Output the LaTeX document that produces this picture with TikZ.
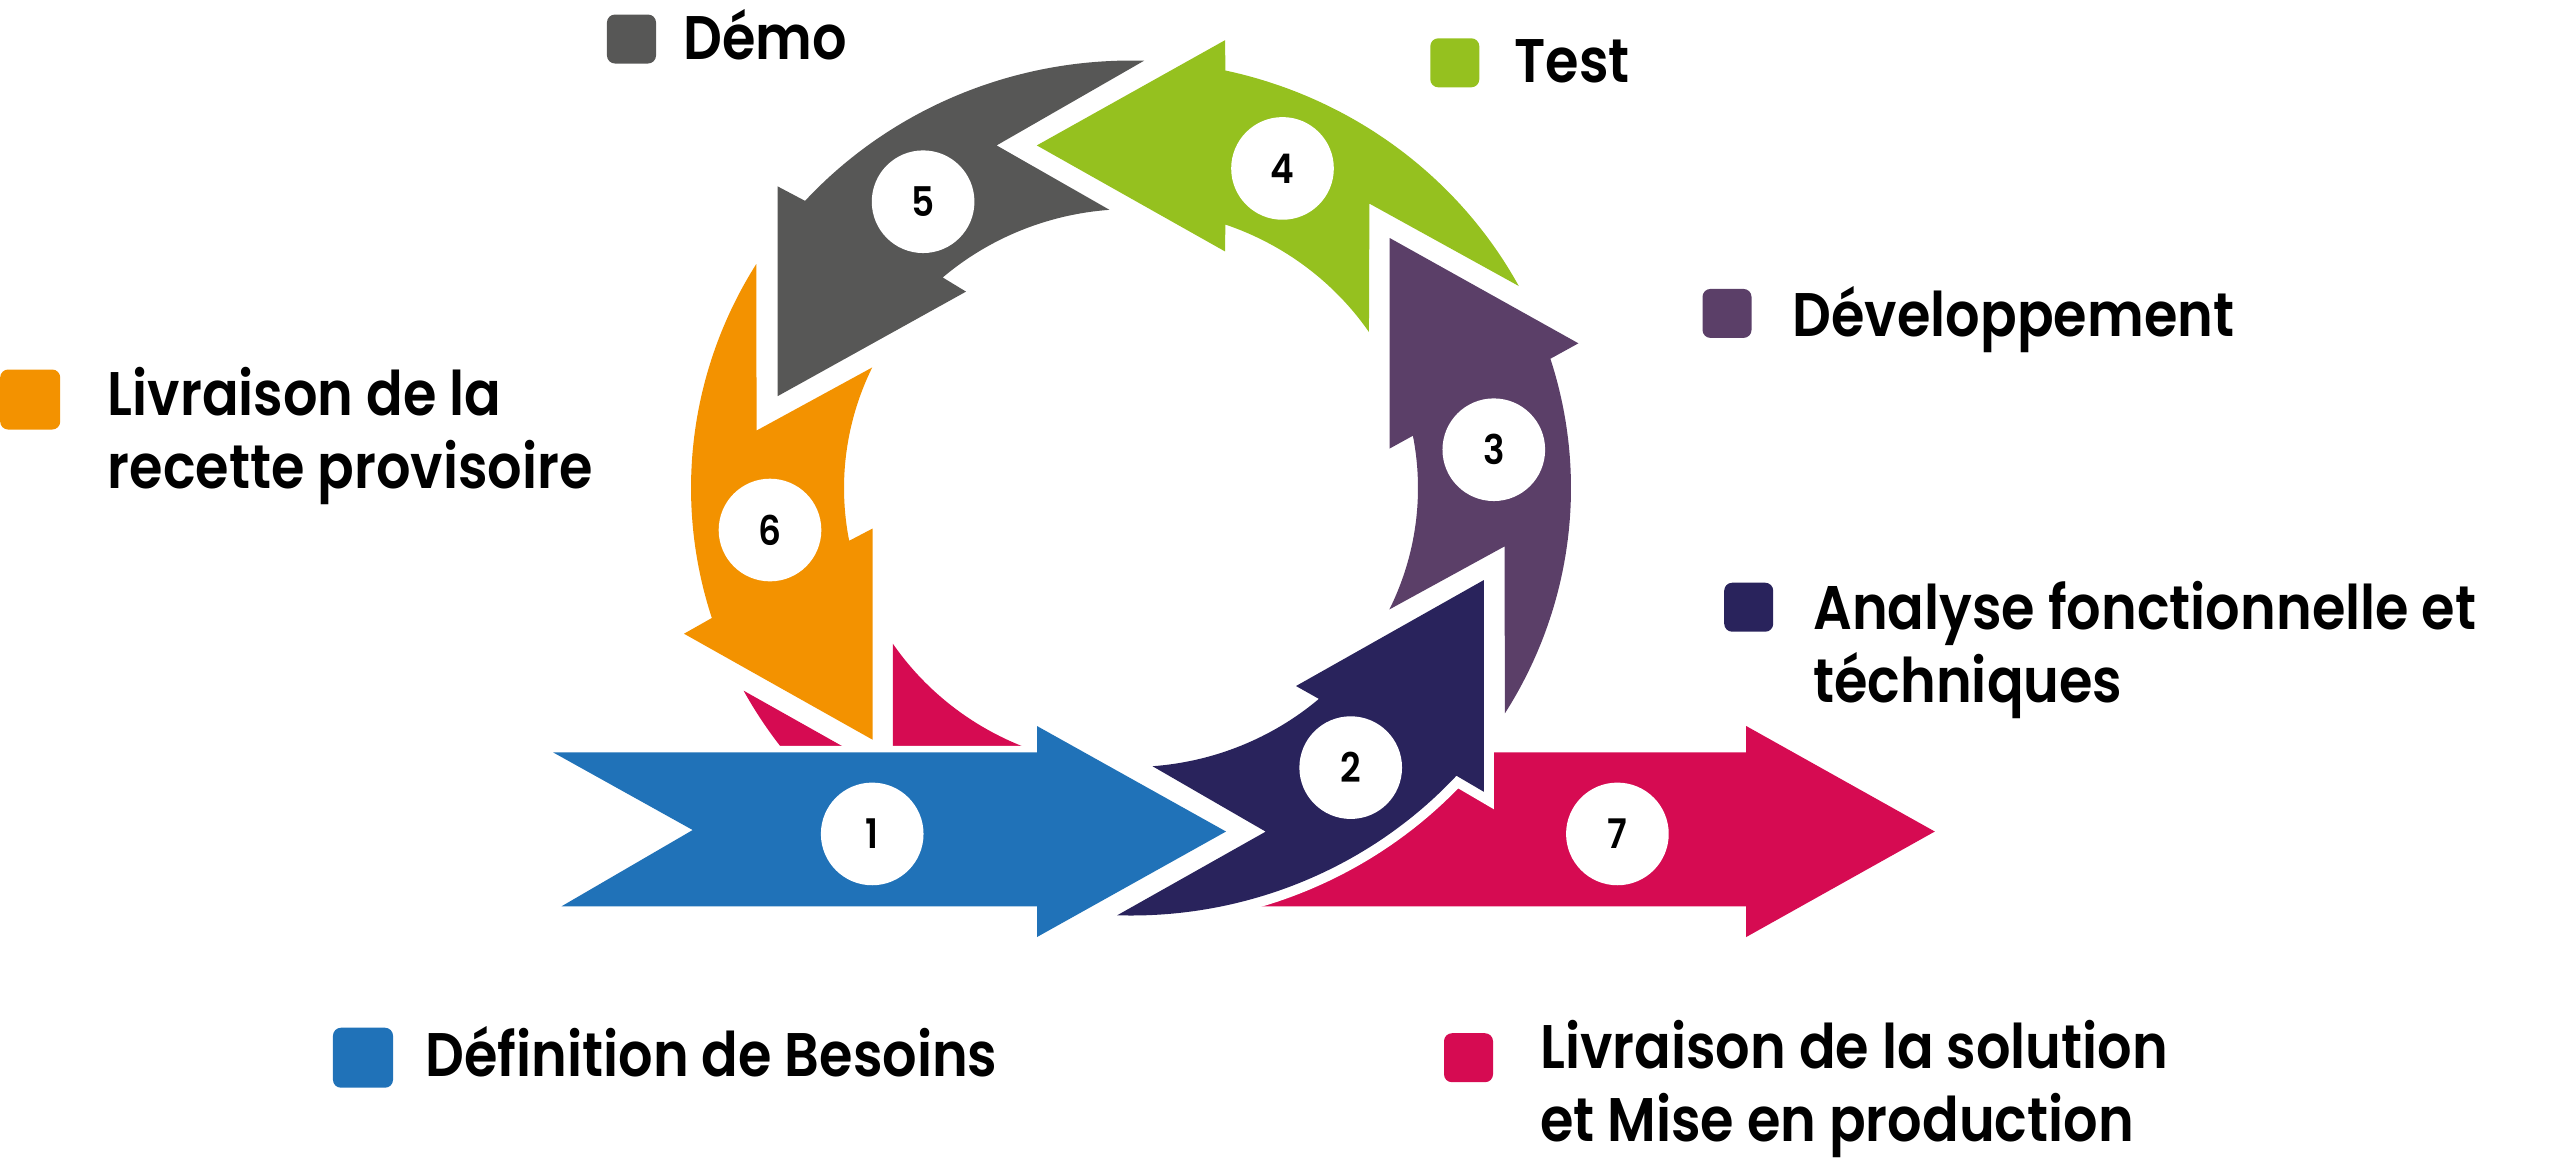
\documentclass[tikz,border=0pt]{standalone}
\usepackage{fontspec}
\setmainfont{Poppins}[BoldFont={* SemiBold},FakeStretch=0.88]
\usetikzlibrary{positioning}

\definecolor{defblue}{HTML}{2072B8}
\definecolor{anaNavy}{HTML}{29235C}
\definecolor{devpurple}{HTML}{5B3F68}
\definecolor{testgreen}{HTML}{95C11F}
\definecolor{demogray}{HTML}{575756}
\definecolor{recorange}{HTML}{F39200}
\definecolor{prodred}{HTML}{D60B52}

\newcommand{\legendfont}{\bfseries\fontsize{17.5}{20.7}\selectfont}
\newcommand{\stepfont}{\bfseries\fontsize{11.6}{13}\selectfont}
% points on the outer / inner ring
\newcommand{\ringo}[1]{([shift={(#1:440 and 427.5)}]c)}
\newcommand{\ringi}[1]{([shift={(#1:287 and 279)}]c)}

\begin{document}
\begin{tikzpicture}[x=0.01cm,y=-0.01cm,
  halo/.style={preaction={draw=white,line width=#1}},
  outarc/.style={x radius=440,y radius=427.5},
  inarc/.style={x radius=287,y radius=279},
  stepnum/.style={circle,fill=white,minimum size=1.026cm,inner sep=0pt,font=\stepfont},
  legendbox/.style={rounded corners=0.08cm,minimum size=0.49cm,inner sep=0pt},
  legendtext/.style={anchor=base west,align=left,inner sep=0pt,font=\legendfont}]

  \useasboundingbox (0,0) rectangle (2560,1162);
  \coordinate (c) at (1131,488);

  % 7 runs behind 1 and 2
  \fill[prodred] (892.9,774.6) -- \ringi{146.1} arc[start angle=146.1,end angle=100,inarc]
        -- \ringo{100} arc[start angle=100,end angle=151.7,outarc] -- cycle;
  \fill[prodred] (1220,906.3) -- (1400,752.3) -- (1746.2,752.3) -- (1746.2,726)
        -- (1934.8,831.5) -- (1746.2,937) -- (1746.2,906.3) -- cycle;

  % 1
  \fill[defblue,halo=0.13cm] (553,752.3) -- (1037,752.3) -- (1037,726) -- (1226,831.5)
        -- (1037,937) -- (1037,906.3) -- (561.5,906.3) -- (692.7,830) -- cycle;

  % 2
  \fill[anaNavy,halo=0.2cm] (1265.7,831.6) -- \ringo{91.8} arc[start angle=91.8,end angle=42.3,outarc]
        -- (1483.9,791.8) -- (1483.9,580) -- (1296,686)
        -- \ringi{49.1} arc[start angle=49.1,end angle=85.7,inarc] -- cycle;

  % 3
  \fill[devpurple] (1389.7,238) -- (1578.4,343.3) -- \ringo{342.4} arc[start angle=342.4,end angle=391.8,outarc]
        -- (1504.5,546.4) -- \ringi{25.8} arc[start angle=25.8,end angle=-10.8,inarc]
        -- (1389.7,448.5) -- cycle;

  % 4
  \fill[testgreen] (1036.8,145.4) -- (1225,40.2) -- \ringo{282.4} arc[start angle=282.4,end angle=331.8,outarc]
        -- (1369.4,203.6) -- \ringi{326} arc[start angle=326,end angle=289.2,inarc]
        -- (1225,251.4) -- cycle;

  % 5
  \fill[demogray] (996.6,145.4) -- \ringo{271.7} arc[start angle=271.7,end angle=222.2,outarc]
        -- (777.7,186.4) -- (777.7,396.1) -- (966,291.6)
        -- \ringi{229} arc[start angle=229,end angle=265.7,inarc] -- cycle;

  % 6
  \fill[recorange] (756.6,430.5) -- \ringi{205.6} arc[start angle=205.6,end angle=169.1,inarc]
        -- (872.6,528.5) -- (872.6,739.7) -- (684,633.7)
        -- \ringo{162.3} arc[start angle=162.3,end angle=211.6,outarc] -- cycle;

  \node[stepnum] (n1) at (872.2,833.9) {1};
  \node[stepnum] (n2) at (1350.7,767.6) {2};
  \node[stepnum] (n3) at (1493.8,449.7) {3};
  \node[stepnum] (n4) at (1282.5,168.4) {4};
  \node[stepnum] (n5) at (923.1,201.7) {5};
  \node[stepnum] (n6) at (770,530) {6};
  \node[stepnum] (n7) at (1617.4,833.9) {7};

  % legend (two-line texts sit on their last baseline)
  \node[legendbox,fill=demogray] (sq5) at (631.5,39) {};
  \node[legendtext] (t5) at (682.5,59.3) {Démo};
  \node[legendbox,fill=testgreen] (sq4) at (1454.8,62.8) {};
  \node[legendtext] (t4) at (1514,82.3) {Test};
  \node[legendbox,fill=devpurple] (sq3) at (1727,313.4) {};
  \node[legendtext] (t3) at (1792,336) {Développement};
  \node[legendbox,fill=anaNavy] (sq2) at (1748.7,607.2) {};
  \node[legendtext] (t2) at (1812.6,702) {Analyse fonctionnelle et\\téchniques};
  \node[legendbox,fill=prodred] (sq7) at (1468.5,1057.7) {};
  \node[legendtext] (t7) at (1539.6,1141) {Livraison de la solution\\et Mise en production};
  \node[legendbox,fill=defblue,minimum size=0.6cm] (sq1) at (363,1057.7) {};
  \node[legendtext] (t1) at (425,1076) {Définition de Besoins};
  \node[legendbox,fill=recorange,minimum size=0.6cm] (sq6) at (30.2,399.5) {};
  \node[legendtext] (t6) at (107.2,488.3) {Livraison de la\\recette provisoire};

\end{tikzpicture}
\end{document}
